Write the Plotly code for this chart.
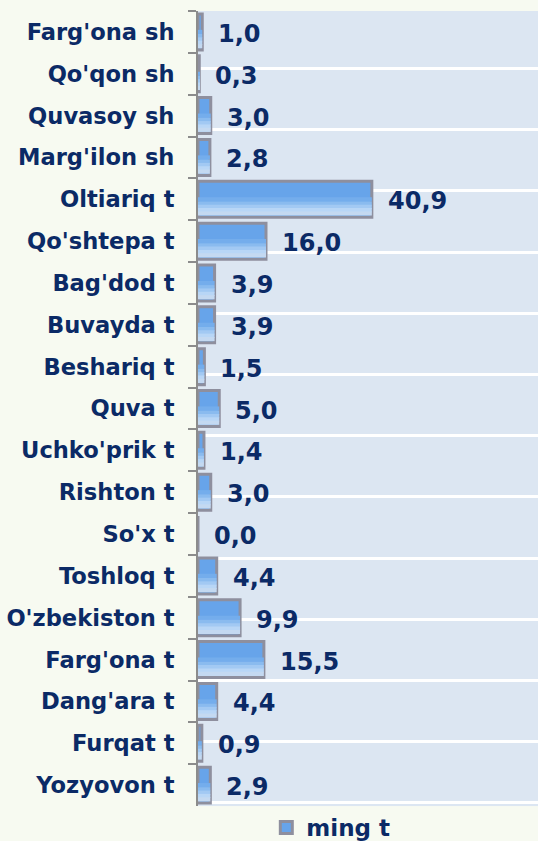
import plotly.graph_objects as go

categories = ["Farg'ona sh", "Qo'qon sh", "Quvasoy sh", "Marg'ilon sh", "Oltiariq t",
              "Qo'shtepa t", "Bag'dod t", "Buvayda t", "Beshariq t", "Quva t",
              "Uchko'prik t", "Rishton t", "So'x t", "Toshloq t", "O'zbekiston t",
              "Farg'ona t", "Dang'ara t", "Furqat t", "Yozyovon t"]
values = [1.0, 0.3, 3.0, 2.8, 40.9, 16.0, 3.9, 3.9, 1.5, 5.0,
          1.4, 3.0, 0.0, 4.4, 9.9, 15.5, 4.4, 0.9, 2.9]
series_name = "ming t"
value_labels = [f"{v:.1f}".replace(".", ",") for v in values]

NAVY = "#0b2a66"
FONT = "DejaVu Sans"

fig = go.Figure()

# main bar (bevel border)
fig.add_trace(go.Bar(
    x=values, y=categories, orientation="h", name=series_name,
    width=0.86,
    marker=dict(color="#67a4ea", line=dict(color="#8e8f9e", width=3)),
    showlegend=True, hoverinfo="skip",
))
# gradient imitation: thin lighter bands towards the bottom of each bar
band_styles = [(-0.05, "#74adec"), (0.05, "#8abbef"), (0.13, "#a2c9f3"),
               (0.21, "#b8d6f6"), (0.29, "#c4d9f1")]
for off, col in band_styles:
    fig.add_trace(go.Bar(
        x=values, y=categories, orientation="h", name=series_name,
        width=0.1, offset=off,
        marker=dict(color=col, line=dict(width=0)),
        showlegend=False, hoverinfo="skip",
    ))

# dummy trace for the stripe axis
fig.add_trace(go.Scatter(x=[None], y=[None], yaxis="y2", showlegend=False,
                         hoverinfo="skip"))

annotations = []
for c, v, t in zip(categories, values, value_labels):
    annotations.append(dict(
        x=v, y=c, xref="x", yref="y", text=t, showarrow=False,
        xanchor="left", yanchor="middle", xshift=14, yshift=-2,
        font=dict(family=FONT, size=24, color=NAVY, weight="bold"),
    ))

fig.update_layout(
    width=538, height=841,
    margin=dict(l=198, r=0, t=11, b=31),
    paper_bgcolor="#f7faf1",
    plot_bgcolor="#dce6f2",
    barmode="overlay",
    bargap=0.14,
    xaxis=dict(range=[0, 80], visible=False, showgrid=False, zeroline=False,
               fixedrange=True),
    yaxis=dict(
        autorange="reversed", type="category",
        showline=True, linecolor="#8c8c8c", linewidth=2,
        ticks="outside", ticklen=8, tickcolor="#8c8c8c", tickwidth=2,
        tickson="boundaries", ticklabelstandoff=17,
        showgrid=False, zeroline=False,
        tickfont=dict(family=FONT, size=22.6, color=NAVY, weight="bold"),
    ),
    yaxis2=dict(
        overlaying="y", range=[-0.05, 12.94], dtick=1, tick0=0,
        showgrid=True, gridcolor="#ffffff", gridwidth=3,
        showticklabels=False, ticks="", zeroline=False, showline=False,
        side="right",
    ),
    legend=dict(
        xref="container", yref="container",
        x=0.495, y=0.016, xanchor="left", yanchor="middle",
        orientation="h", bgcolor="rgba(0,0,0,0)",
        font=dict(family=FONT, size=23, color=NAVY, weight="bold"),
    ),
    annotations=annotations,
)

fig.write_html(
    "out.html",
    config={"displayModeBar": False},
    post_script="document.body.style.margin='0';document.body.style.overflow='hidden';",
)
